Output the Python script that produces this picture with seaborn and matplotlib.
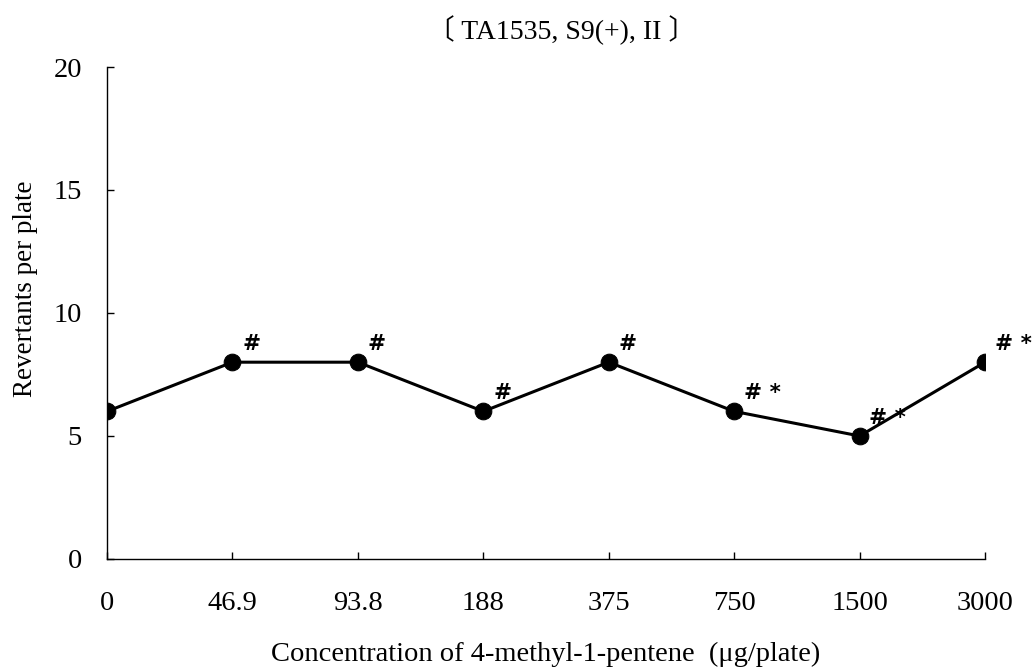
import matplotlib
matplotlib.use("Agg")
import matplotlib.pyplot as plt
import seaborn as sns
import pandas as pd

# Dose groups and mean revertant counts
concentrations = ["0", "46.9", "93.8", "188", "375", "750", "1500", "3000"]
revertants = [6, 8, 8, 6, 8, 6, 5, 8]
significance = ["", "#", "#", "#", "#", "# *", "# *", "# *"]
y_ticks = [0, 5, 10, 15, 20]

df = pd.DataFrame({"conc": concentrations, "rev": revertants})

sns.set_theme(style="ticks")
plt.rcParams["font.family"] = ["Liberation Serif", "Noto Sans CJK JP", "DejaVu Sans"]

fig = plt.figure(figsize=(10.32, 6.70), dpi=100)
ax = fig.add_axes([0.1037, 0.1657, 0.8508, 0.7343])

sns.lineplot(data=df, x="conc", y="rev", sort=False, ax=ax,
             color="black", linewidth=2.2, marker="o", markersize=12,
             markeredgecolor="black", markerfacecolor="black")

# significance marks beside each dosed point
for i, (v, s) in enumerate(zip(revertants, significance)):
    if s:
        ax.annotate(s, xy=(i, v), xytext=(7, 6), textcoords="offset points",
                    ha="left", va="bottom", fontsize=15.5, fontweight="bold",
                    family="DejaVu Sans", color="black")

ax.set_xlim(0, len(concentrations) - 1)
ax.set_ylim(0, 20)
ax.set_yticks(y_ticks)
ax.set_xticks(range(len(concentrations)))
ax.set_xticklabels(concentrations)

ax.tick_params(axis="both", direction="in", length=5, width=1, color="black",
               labelsize=20.5, labelcolor="black")
ax.tick_params(axis="x", pad=23)
ax.tick_params(axis="y", pad=18)

for side in ("top", "right"):
    ax.spines[side].set_visible(False)
for side in ("left", "bottom"):
    ax.spines[side].set_color("black")
    ax.spines[side].set_linewidth(1.0)

ax.set_xlabel("Concentration of 4-methyl-1-pentene  (\u03bcg/plate)", fontsize=20.5, color="black")
ax.set_ylabel("Revertants per plate", fontsize=19.5, color="black")
ax.xaxis.label.set_va("center")
ax.yaxis.label.set_va("center")
ax.xaxis.set_label_coords(0.5, -0.195)
ax.yaxis.set_label_coords(-0.093, 0.549)

ax.text(0.518, 1.075, "\u3014 TA1535, S9(+), II \u3015", transform=ax.transAxes,
        ha="center", va="center", fontsize=20, color="black")

fig.savefig("out.png", dpi=100, facecolor="white")
